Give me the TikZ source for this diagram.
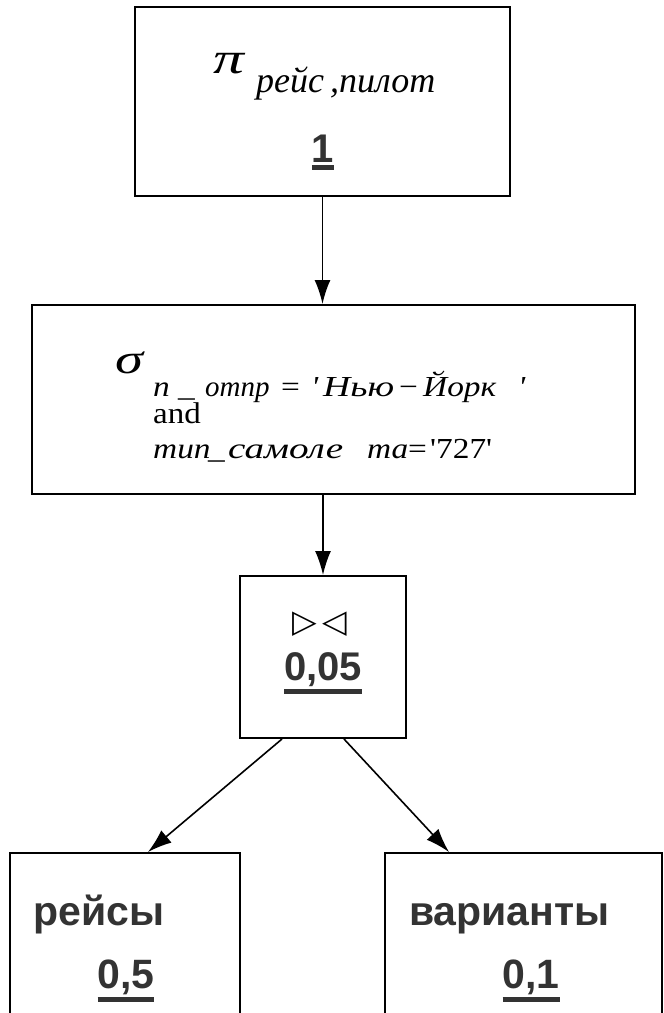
\documentclass[tikz,border=0pt]{standalone}
\usepackage{fontspec}
\usepackage{graphicx}
\setmainfont{Liberation Serif}
\setmonofont{Liberation Serif}
\newfontfamily\lsans{Liberation Sans}
\newfontfamily\dejavu{DejaVu Sans}
\usetikzlibrary{arrows.meta}
\definecolor{txtgray}{HTML}{333333}
\newcommand\ulbox[1]{\leavevmode\vtop{\hbox{#1}\kern3pt\hrule height 4.5pt}}
\newcommand\pc[2]{\makebox[#1pt][l]{\scalebox{1.15}[1]{#2}}}
\newcommand\pcs[3]{\makebox[#1pt][l]{\scalebox{#2}[1]{#3}}}
\newcommand\sq{{\ttfamily\char"27}}
\tikzset{
  opbox/.style={draw, line width=2pt, rectangle, inner sep=0pt},
  conn/.style={line width=1.6pt, -{Latex[length=24pt,width=16pt]}},
  lbl/.style={inner sep=0pt, anchor=base west},
  numlbl/.style={inner sep=0pt, anchor=base, text=txtgray, font=\lsans\bfseries\fontsize{40}{44}\selectfont},
  rellbl/.style={inner sep=0pt, anchor=base west, text=txtgray, font=\lsans\bfseries\fontsize{41}{45}\selectfont},
}
\begin{document}
\begin{tikzpicture}[x=1pt,y=-1pt]
\useasboundingbox (0,0) rectangle (664,1013);
\clip (0,0) rectangle (664,1013);
% boxes
\node[opbox, minimum width=375pt, minimum height=189pt] (b1) at (322.5,101.5) {};
\node[opbox, minimum width=603pt, minimum height=189pt] (b2) at (333.5,399.5) {};
\node[opbox, minimum width=166pt, minimum height=162pt] (b3) at (323,657) {};
\node[opbox, minimum width=230pt, minimum height=220pt] (b4) at (125,963) {};
\node[opbox, minimum width=277pt, minimum height=220pt] (b5) at (523.5,963) {};
% box 1 text
\node[lbl, font=\itshape\fontsize{44}{48}\selectfont] (pi) at (213,73) {\scalebox{1.4}[1]{π}};
\node[lbl, font=\itshape\fontsize{36}{39}\selectfont] (pisub) at (256,92) {рейс\,,пилот};
\node[numlbl] (one) at (323,162) {\ulbox{1}};
% box 2 text
\node[lbl, font=\itshape\fontsize{42}{46}\selectfont] (sig) at (115,373) {\scalebox{1.35}[1]{σ}};
\node[lbl, font=\fontsize{29}{32}\selectfont] (c1) at (153,396)
  {\pc{25}{\itshape n}\pc{27}{\_}\pcs{76}{1}{\itshape отпр}\pc{30}{=}\pc{12}{\itshape\sq}\pcs{76}{1.3}{\itshape Нью}\pc{24}{−}\pc{95}{\itshape Йорк}{\scalebox{1.15}[1]{\itshape\sq}}};
\node[lbl, font=\fontsize{30}{33}\selectfont] (c2) at (153,423) {\scalebox{1.1}[1]{and}};
\node[lbl, font=\fontsize{29}{32}\selectfont] (c3) at (153,458)
  {\pc{55}{\itshape тип}\pc{20}{\_}\pcs{139}{1.35}{\itshape самоле}\pc{41}{\itshape та}\pc{22}{=}\scalebox{1.15}[1]{\sq 727\sq}};
% box 3 text
\node[inner sep=0pt, anchor=base, font=\dejavu\fontsize{32}{35}\selectfont] (join) at (320,632) {▷\,◁};
\node[numlbl] (j) at (323,680) {\ulbox{0,05}};
% box 4,5 text
\node[rellbl] (r1) at (33,925) {рейсы};
\node[numlbl, font=\lsans\bfseries\fontsize{41}{45}\selectfont] (r1n) at (126,988) {\ulbox{0,5}};
\node[rellbl] (r2) at (409,925) {варианты};
\node[numlbl, font=\lsans\bfseries\fontsize{41}{45}\selectfont] (r2n) at (531,988) {\ulbox{0,1}};
% connectors
\draw[conn] (b1.south) -- (b1.south |- b2.north);
\draw[conn] (b3.north |- b2.south) -- (b3.north);
\draw[conn] ([xshift=-41pt]b3.south) -- ([xshift=23pt]b4.north);
\draw[conn] ([xshift=21pt]b3.south) -- ([xshift=-74.5pt]b5.north);
\end{tikzpicture}
\end{document}
